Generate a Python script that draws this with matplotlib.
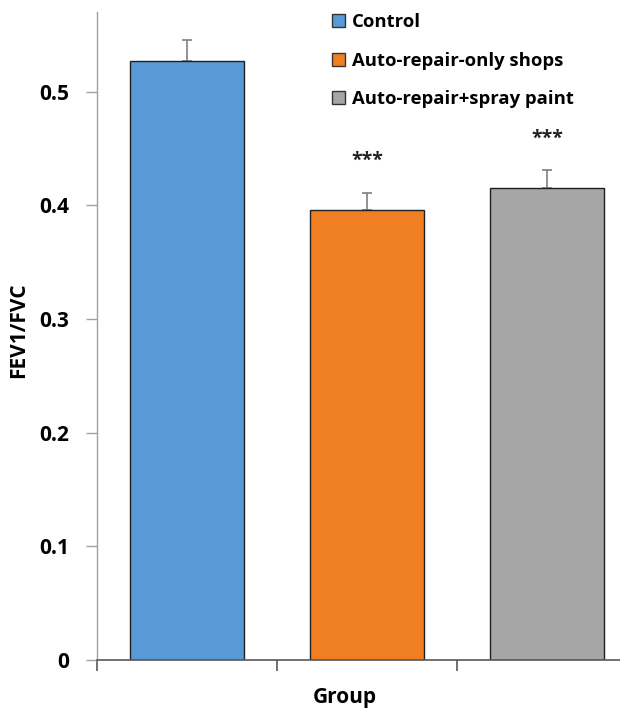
import matplotlib
matplotlib.use("Agg")
import matplotlib.pyplot as plt
from matplotlib.patches import Patch

groups = ["Control", "Auto-repair-only shops", "Auto-repair+spray paint"]
fev1_fvc = [0.527, 0.396, 0.415]
sem = [0.018, 0.015, 0.016]
stars = ["", "***", "***"]
colors = ["#5899D6", "#EF7F22", "#A6A6A6"]

plt.rcParams['font.family'] = ['Open Sans', 'DejaVu Sans']
plt.rcParams['font.weight'] = 'bold'

fig = plt.figure(figsize=(6.2, 7.11), dpi=100)
W, H = 620, 711
# axes reaches past the right edge like the original crop
ax = fig.add_axes([97 / W, 1 - 660 / H, 540 / W, (660 - 12) / H])

x = list(range(len(groups)))
ax.bar(x, fev1_fvc, width=0.635, color=colors, edgecolor="#1f1f1f", linewidth=1.0, zorder=2)
ax.errorbar(x, fev1_fvc, yerr=[[0, 0, 0], sem], fmt="none", ecolor="#7f7f7f",
            elinewidth=1.2, capsize=3.5, capthick=1.2, zorder=1)

for i in x:
    if stars[i]:
        ax.text(i, fev1_fvc[i] + sem[i] + 0.019, stars[i], ha="center", va="bottom",
                fontsize=14, fontweight="bold", color="#222222")

ax.set_xlim(-0.5, 2.5)
ax.set_ylim(0, 0.57)
ax.set_yticks([0, 0.1, 0.2, 0.3, 0.4, 0.5])
ax.set_yticklabels(["0", "0.1", "0.2", "0.3", "0.4", "0.5"])
ax.set_xticks([-0.5, 0.5, 1.5, 2.5])
ax.set_xticklabels([])

for s in ["top", "right"]:
    ax.spines[s].set_visible(False)
ax.spines["left"].set_color("#a0a0a0")
ax.spines["bottom"].set_color("#595959")
ax.spines["left"].set_linewidth(1.0)
ax.spines["bottom"].set_linewidth(1.2)
ax.tick_params(axis="y", length=8, width=1.0, color="#a0a0a0", labelsize=15, pad=12)
ax.tick_params(axis="x", length=8, width=1.2, color="#595959")

ax.set_ylabel("FEV1/FVC", fontsize=15, fontweight="bold", va="center", ha="center")
ax.set_xlabel("Group", fontsize=15, fontweight="bold", va="center", ha="center")
ax.yaxis.set_label_coords((19 - 97) / 540, (660 - 330) / 648)
ax.xaxis.set_label_coords((345 - 97) / 540, (660 - 697) / 648)

handles = [Patch(facecolor=c, edgecolor="#333333", linewidth=1.0) for c in colors]
leg = fig.legend(handles, groups, loc="upper left", bbox_to_anchor=(325 / W, 1 - 6 / H),
                 frameon=False, fontsize=13.3, handlelength=0.7, handleheight=0.7,
                 handletextpad=0.35, labelspacing=1.1, borderaxespad=0)
for t in leg.get_texts():
    t.set_fontweight("bold")

fig.savefig("out.png", dpi=100)
